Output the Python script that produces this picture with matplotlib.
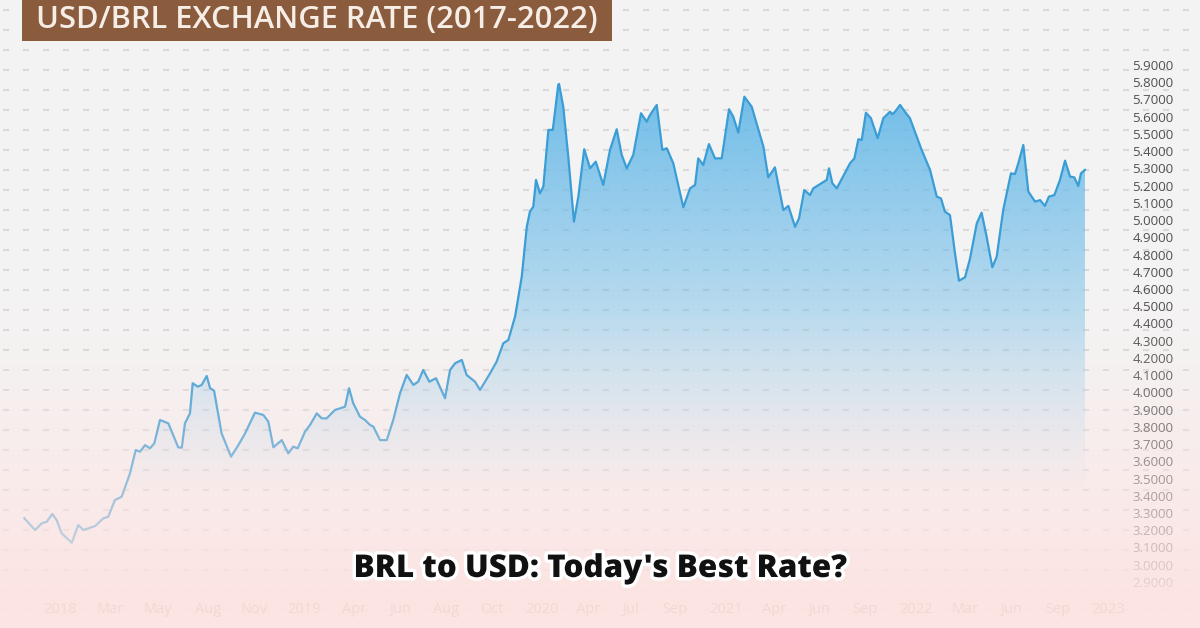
import numpy as np
import matplotlib.pyplot as plt
import matplotlib.patheffects as pe
from matplotlib.patches import Polygon, Rectangle

plt.rcParams['font.family'] = ['Open Sans', 'DejaVu Sans']

# USD/BRL rate (x in decimal years)
dates = [2017.830, 2017.881, 2017.913, 2017.937, 2017.963, 2017.984, 2018.008, 2018.056,
         2018.087, 2018.111, 2018.167, 2018.207, 2018.230, 2018.262, 2018.294, 2018.334,
         2018.361, 2018.382, 2018.406, 2018.429, 2018.450, 2018.477, 2018.517, 2018.564,
         2018.581, 2018.596, 2018.620, 2018.633, 2018.657, 2018.676, 2018.700, 2018.716,
         2018.735, 2018.771, 2018.816, 2018.851, 2018.883, 2018.930, 2018.970, 2018.994,
         2019.018, 2019.058, 2019.089, 2019.113, 2019.134, 2019.169, 2019.193, 2019.225,
         2019.249, 2019.272, 2019.312, 2019.336, 2019.360, 2019.379, 2019.399, 2019.431,
         2019.455, 2019.479, 2019.495, 2019.527, 2019.559, 2019.590, 2019.622, 2019.654,
         2019.686, 2019.709, 2019.733, 2019.762, 2019.794, 2019.837, 2019.861, 2019.885,
         2019.917, 2019.940, 2019.980, 2020.004, 2020.052, 2020.083, 2020.115, 2020.139,
         2020.171, 2020.203, 2020.227, 2020.242, 2020.258, 2020.271, 2020.290, 2020.306,
         2020.330, 2020.351, 2020.377, 2020.381, 2020.401, 2020.425, 2020.452, 2020.473,
         2020.501, 2020.529, 2020.556, 2020.592, 2020.624, 2020.656, 2020.680, 2020.704,
         2020.735, 2020.772, 2020.799, 2020.815, 2020.847, 2020.874, 2020.895, 2020.926,
         2020.974, 2021.006, 2021.030, 2021.045, 2021.069, 2021.096, 2021.125, 2021.157,
         2021.192, 2021.212, 2021.236, 2021.265, 2021.300, 2021.356, 2021.379, 2021.411,
         2021.451, 2021.475, 2021.507, 2021.526, 2021.551, 2021.578, 2021.594, 2021.658,
         2021.669, 2021.685, 2021.706, 2021.769, 2021.790, 2021.809, 2021.825, 2021.845,
         2021.869, 2021.901, 2021.928, 2021.960, 2021.971, 2021.984, 2022.008, 2022.031,
         2022.055, 2022.111, 2022.151, 2022.183, 2022.203, 2022.222, 2022.246, 2022.270,
         2022.289, 2022.318, 2022.342, 2022.374, 2022.397, 2022.421, 2022.448, 2022.469,
         2022.500, 2022.537, 2022.556, 2022.572, 2022.596, 2022.620, 2022.652, 2022.676,
         2022.699, 2022.718, 2022.744, 2022.771, 2022.795, 2022.819, 2022.839, 2022.858,
         2022.871, 2022.890]
rates = [3.269, 3.201, 3.240, 3.249, 3.294, 3.259, 3.182, 3.127,
         3.230, 3.201, 3.224, 3.269, 3.278, 3.375, 3.394, 3.530,
         3.665, 3.656, 3.694, 3.675, 3.704, 3.840, 3.820, 3.681,
         3.679, 3.820, 3.878, 4.053, 4.033, 4.043, 4.095, 4.024,
         4.010, 3.762, 3.627, 3.694, 3.762, 3.882, 3.869, 3.830,
         3.681, 3.723, 3.646, 3.685, 3.675, 3.772, 3.811, 3.878,
         3.849, 3.849, 3.898, 3.907, 3.917, 4.024, 3.937, 3.859,
         3.840, 3.811, 3.801, 3.723, 3.723, 3.840, 3.994, 4.101,
         4.043, 4.062, 4.130, 4.062, 4.082, 3.966, 4.130, 4.169,
         4.188, 4.101, 4.062, 4.014, 4.111, 4.178, 4.285, 4.304,
         4.439, 4.671, 4.961, 5.049, 5.078, 5.233, 5.155, 5.194,
         5.523, 5.523, 5.784, 5.790, 5.658, 5.368, 4.991, 5.136,
         5.411, 5.300, 5.339, 5.204, 5.407, 5.527, 5.378, 5.300,
         5.378, 5.620, 5.571, 5.610, 5.668, 5.407, 5.417, 5.329,
         5.074, 5.184, 5.204, 5.358, 5.320, 5.441, 5.358, 5.358,
         5.643, 5.600, 5.507, 5.716, 5.658, 5.426, 5.248, 5.306,
         5.058, 5.082, 4.961, 5.010, 5.174, 5.145, 5.184, 5.233,
         5.300, 5.213, 5.184, 5.329, 5.358, 5.469, 5.465, 5.623,
         5.591, 5.475, 5.591, 5.629, 5.614, 5.629, 5.668, 5.629,
         5.591, 5.407, 5.291, 5.136, 5.126, 5.049, 5.029, 4.807,
         4.648, 4.668, 4.778, 4.981, 5.043, 4.903, 4.726, 4.787,
         5.058, 5.271, 5.267, 5.329, 5.436, 5.165, 5.107, 5.116,
         5.082, 5.136, 5.145, 5.233, 5.345, 5.252, 5.248, 5.198,
         5.271, 5.291]

tick_pos = [2018.000, 2018.239, 2018.468, 2018.706, 2018.926, 2019.164, 2019.403,
            2019.622, 2019.842, 2020.061, 2020.300, 2020.519, 2020.724, 2020.934,
            2021.177, 2021.406, 2021.621, 2021.841, 2022.084, 2022.318, 2022.537,
            2022.761, 2023.000]
tick_labels = ['2018', 'Mar', 'May', 'Aug', 'Nov', '2019', 'Apr', 'Jun', 'Aug', 'Oct',
               '2020', 'Apr', 'Jul', 'Sep', '2021', 'Apr', 'Jun', 'Sep', '2022', 'Mar',
               'Jun', 'Sep', '2023']
y_ticks = np.round(np.arange(2.9, 5.95, 0.1), 1)

title = 'USD/BRL EXCHANGE RATE (2017-2022)'
subtitle = "BRL to USD: Today's Best Rate?"

W, H = 1200, 628
fig = plt.figure(figsize=(W / 100, H / 100), dpi=100)
fig.patch.set_facecolor('#f4f3f3')

# dotted background
bg = fig.add_axes([0, 0, 1, 1], zorder=0)
bg.axis('off')
gx, gy = np.meshgrid(np.arange(6, W, 20), np.arange(9.5, H, 20))
bg.plot(gx.ravel(), gy.ravel(), ls='none', marker='_', ms=4, mew=1.5, color='#dcd9d9')
bg.set_xlim(0, W)
bg.set_ylim(H, 0)

# main chart
ax = fig.add_axes([0, 33 / H, 1120 / W, 555 / H], zorder=1)
ax.patch.set_alpha(0)
x0, x1 = 2018 - 60 / 209.6, 2018 + 1060 / 209.6
y0, y1 = 2.824, 6.045

vals = np.linspace(y1, y0, 300)
grad = np.zeros((300, 1, 4))
grad[..., :3] = np.array([100, 184, 232]) / 255
grad[..., 3] = (np.clip((vals - 3.4) / 2.5, 0, 1) * 0.97)[:, None]
im = ax.imshow(grad, extent=[x0, x1, y0, y1], aspect='auto', origin='upper', zorder=1)
area = Polygon(list(zip(dates, rates)) + [(dates[-1], y0), (dates[0], y0)],
               closed=True, facecolor='none', edgecolor='none', transform=ax.transData)
ax.add_patch(area)
im.set_clip_path(area)

ax.plot(dates, rates, color='#3a9dd6', lw=1.6, solid_joinstyle='round', zorder=3)

ax.set_xlim(x0, x1)
ax.set_ylim(y0, y1)
ax.yaxis.tick_right()
ax.set_yticks(y_ticks, [f'{v:.4f}' for v in y_ticks])
ax.set_xticks(tick_pos, tick_labels)
ax.tick_params(axis='y', length=0, pad=9, labelsize=9.5, labelcolor='#505050')
ax.tick_params(axis='x', length=0, pad=5, labelsize=10.5, labelcolor='#a07070')
for s in ax.spines.values():
    s.set_visible(False)

# pink fade over the lower part
ov = fig.add_axes([0, 0, 1, 1], zorder=5)
ov.axis('off')
rows = np.arange(H)
fade = np.zeros((H, 1, 4))
fade[..., :3] = np.array([253, 227, 225]) / 255
fade[..., 3] = (np.clip((rows - 300) / 290, 0, 1) ** 1.3 * 0.9)[:, None]
ov.imshow(fade, extent=[0, W, H, 0], aspect='auto')
ov.set_xlim(0, W)
ov.set_ylim(H, 0)

# title banner
fig.add_artist(Rectangle((22 / W, 1 - 41 / H), 590 / W, 41 / H + 0.01,
                         transform=fig.transFigure, facecolor='#8b5b3d',
                         edgecolor='none', zorder=10))
fig.text(317 / W, 1 - 20 / H, title, ha='center', va='center', fontsize=22.2,
         fontweight='semibold', color='#f6eee6', zorder=11)

fig.text(600 / W, 1 - 569 / H, subtitle, ha='center', va='center', fontsize=22.6,
         fontweight='heavy', color='#111111', zorder=11,
         path_effects=[pe.withStroke(linewidth=5, foreground='white')])

fig.savefig('out.png', dpi=100, facecolor=fig.get_facecolor())
